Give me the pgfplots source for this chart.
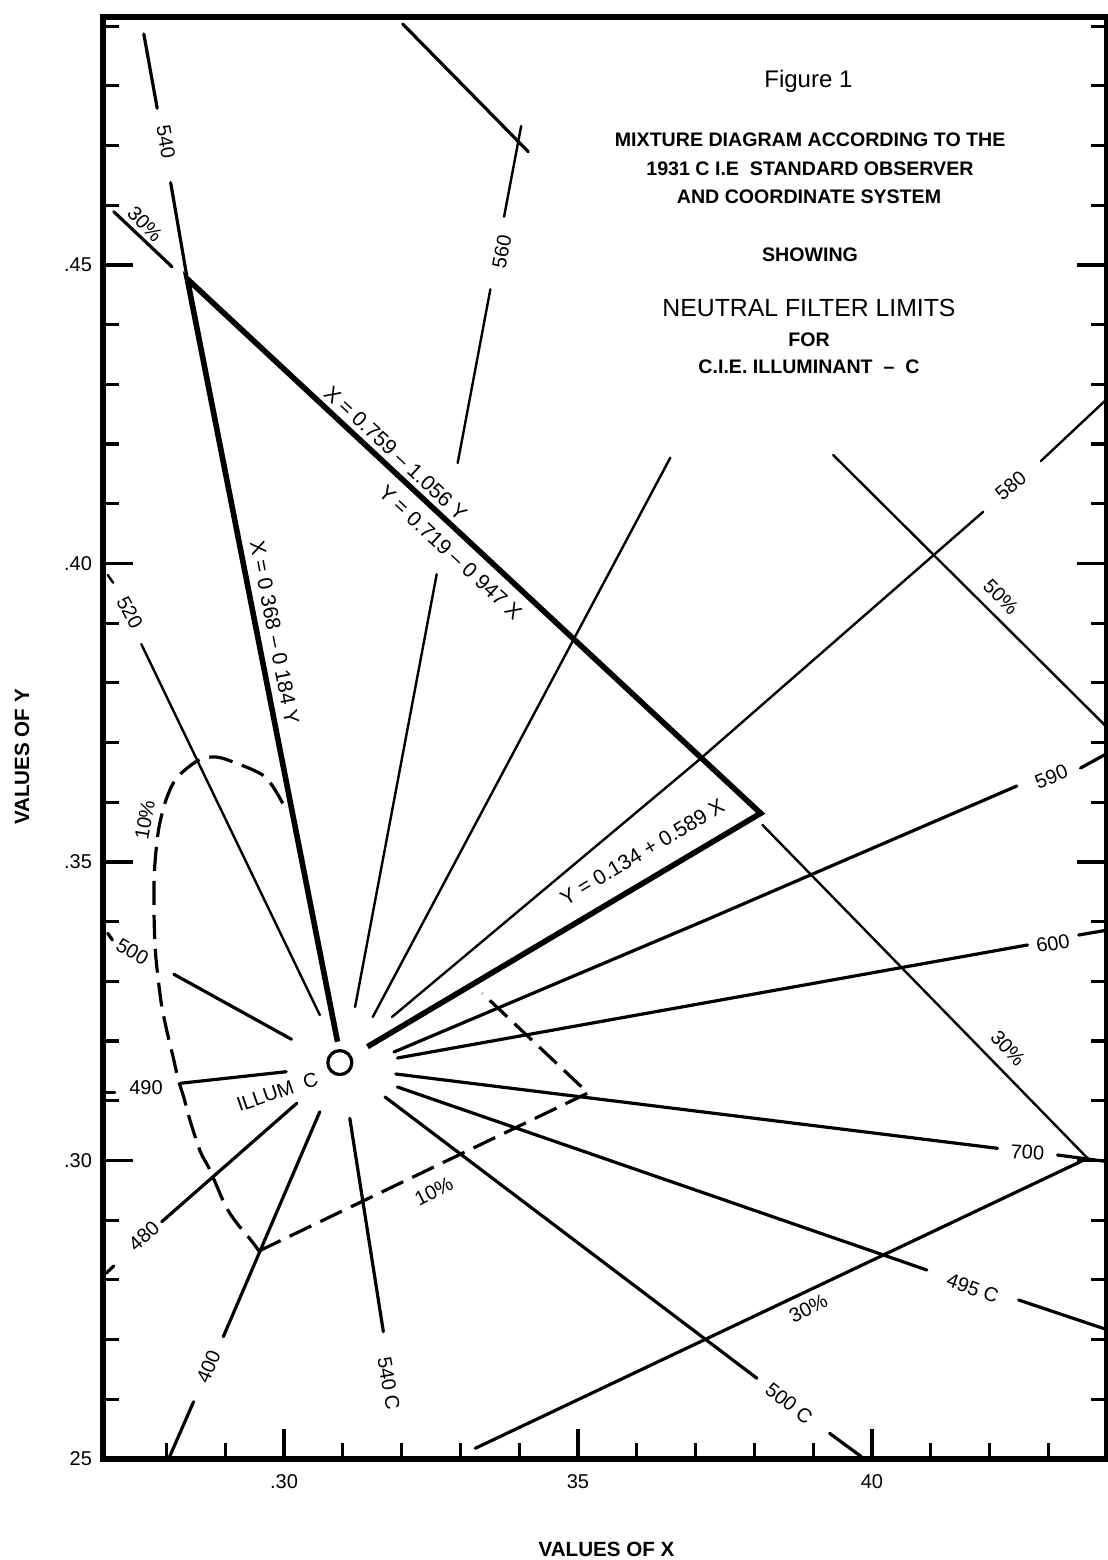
\documentclass[border=0pt]{standalone}
\usepackage{fontspec}
\setmainfont{Liberation Sans}
\usepackage{pgfplots}
\pgfplotsset{compat=1.18}
\tikzset{
  tl/.style={black, line width=1.2pt, line cap=round},
  ml/.style={black, line width=1.6pt, line cap=round},
  kl/.style={black, line width=2.8pt, line join=miter},
  dl/.style={black, line width=1.6pt, dash pattern=on 12pt off 5pt},
  lab/.style={font=\fontsize{10}{12}\selectfont, inner sep=0pt},
  eq/.style={font=\fontsize{10.5}{12}\selectfont, inner sep=0pt},
  tb/.style={font=\bfseries\fontsize{9.8}{12}\selectfont, inner sep=0pt},
}
\begin{document}
\begin{tikzpicture}
\path[use as bounding box] (0,0) rectangle (554pt,780pt);
\begin{axis}[
  at={(51.5pt,50.5pt)}, anchor=south west,
  width=502pt, height=721pt, scale only axis,
  xmin=0.26922, xmax=0.43997, ymin=0.25, ymax=0.49154,
  axis line style={line width=2.8pt},
  tick align=inside,
  xtick pos=left, ytick pos=both, yticklabel pos=left,
  xtick={0.30,0.35,0.40}, xticklabels={.30,35,40},
  ytick={0.25,0.30,0.35,0.40,0.45}, yticklabels={25,.30,.35,.40,.45},
  minor xtick={0.28,0.29,0.31,0.32,0.33,0.34,0.36,0.37,0.38,0.39,0.41,0.42,0.43},
  minor ytick={0.26,0.27,0.28,0.29,0.31,0.32,0.33,0.34,0.36,0.37,0.38,0.39,0.41,0.42,0.43,0.44,0.46,0.47,0.48,0.49},
  major tick length=15pt, minor tick length=8pt,
  every tick/.style={black, line width=1.6pt},
  /pgf/number format/assume math mode=true,
  ticklabel style={font=\fontsize{10}{12}\selectfont},
  xticklabel style={yshift=-4pt},
  yticklabel style={xshift=-2pt},
  xlabel={VALUES OF X}, ylabel={VALUES OF Y},
  label style={font=\bfseries\fontsize{10.3}{12}\selectfont},
  xlabel style={at={(axis description cs:0.5015,-0.0624)}, anchor=center},
  ylabel style={at={(axis description cs:-0.0807,0.4868)}, anchor=center},
]
% 540 (top)
\addplot[ml] coordinates {(0.27616,0.48869) (0.27844,0.47625)};
\addplot[ml] coordinates {(0.28073,0.46379) (0.28355,0.44766)};
% 30% (top left)
\addplot[ml] coordinates {(0.27105,0.45893) (0.28095,0.44971)};
% top diagonal
\addplot[ml] coordinates {(0.32020,0.49036) (0.34155,0.46897)};
% 560
\addplot[tl] coordinates {(0.34034,0.47328) (0.33743,0.45809)};
\addplot[tl] coordinates {(0.33510,0.44593) (0.32954,0.41683)};
\addplot[tl] coordinates {(0.32597,0.39819) (0.31209,0.32571)};
% 570
\addplot[tl] coordinates {(0.36570,0.41772) (0.31510,0.32404)};
% 520
\addplot[tl] coordinates {(0.27573,0.38651) (0.30609,0.32437)};
\addplot[tl] coordinates {(0.27003,0.39807) (0.27094,0.39678)};
% neutral filter limits (triangle)
\addplot[kl] coordinates {(0.30910,0.31990) (0.28355,0.44766) (0.38107,0.35816) (0.31420,0.31906)};
% 580
\addplot[tl] coordinates {(0.31837,0.32404) (0.37056,0.36708) (0.41893,0.40867)};
\addplot[tl] coordinates {(0.42873,0.41717) (0.44014,0.42772)};
% 590
\addplot[ml] coordinates {(0.31871,0.31817) (0.37177,0.34028) (0.42464,0.36273)};
\addplot[ml] coordinates {(0.43546,0.36574) (0.44014,0.36826)};
% 600
\addplot[ml] coordinates {(0.31930,0.31717) (0.42645,0.33610)};
\addplot[ml] coordinates {(0.43515,0.33777) (0.44014,0.33861)};
% 700
\addplot[ml] coordinates {(0.31901,0.31449) (0.42135,0.30204)};
\addplot[ml] coordinates {(0.43155,0.30092) (0.44014,0.29980)};
% 495 C
\addplot[ml] coordinates {(0.31930,0.31231) (0.40932,0.28166)};
\addplot[ml] coordinates {(0.42495,0.27663) (0.44014,0.27161)};
% 500 C
\addplot[ml] coordinates {(0.31718,0.31064) (0.38044,0.26352)};
\addplot[ml] coordinates {(0.39279,0.25430) (0.39820,0.25039)};
% 540 C
\addplot[ml] coordinates {(0.31119,0.30707) (0.31690,0.27132)};
% 400
\addplot[ml] coordinates {(0.30609,0.30817) (0.28968,0.27049)};
\addplot[ml] coordinates {(0.28463,0.25960) (0.28043,0.25012)};
% 480
\addplot[ml] coordinates {(0.30218,0.30958) (0.27922,0.28975)};
\addplot[ml] coordinates {(0.27105,0.28233) (0.26973,0.28110)};
% 490
\addplot[ml] coordinates {(0.30037,0.31487) (0.28235,0.31293)};
\addplot[ml] coordinates {(0.26973,0.31142) (0.27122,0.31142)};
% 500
\addplot[ml] coordinates {(0.30128,0.32030) (0.28128,0.33119)};
\addplot[ml] coordinates {(0.27003,0.33806) (0.27082,0.33693)};
% 50%
\addplot[tl] coordinates {(0.39340,0.41817) (0.44014,0.37239)};
% 30% (right)
\addplot[tl] coordinates {(0.38138,0.35620) (0.43667,0.30037)};
% 30% (lower)
\addplot[ml] coordinates {(0.33253,0.25179) (0.43667,0.30037)};
% 10% dashed limit
\addplot[dl, smooth, tension=0.5] coordinates {
 (0.29978,0.35983) (0.29677,0.36429) (0.29136,0.36675) (0.28835,0.36759)
 (0.28537,0.36700) (0.28175,0.36407) (0.27993,0.36038) (0.27866,0.35536)
 (0.27798,0.34866) (0.27789,0.34196) (0.27815,0.33476) (0.27905,0.32688)
 (0.27993,0.32236) (0.28114,0.31734) (0.28204,0.31348) (0.28294,0.31064)
 (0.28415,0.30628) (0.28580,0.30142) (0.28716,0.29891) (0.28835,0.29623)
 (0.29015,0.29221) (0.29196,0.28953) (0.29437,0.28668) (0.29575,0.28484)};
\addplot[dl, line join=miter] coordinates {(0.29575,0.28484) (0.35170,0.31131) (0.33373,0.32800)};
% Illuminant C
\addplot[only marks, mark=o, mark size=6pt, mark options={black, line width=1.6pt, fill=white}] coordinates {(0.3095,0.3164)};

% labels
\node[lab, rotate=-80] at (axis cs:0.27993,0.47060) {540};
\node[lab, rotate=-46] at (axis cs:0.27636,0.45686) {30\%};
\node[lab, rotate=79] at (axis cs:0.33704,0.45222) {560};
\node[eq, rotate=-43] at (axis cs:0.31901,0.41845) {X = 0.759 – 1.056 Y};
\node[eq, rotate=-43] at (axis cs:0.32832,0.40184) {Y = 0.719 – 0 947 X};
\node[eq, rotate=-79] at (axis cs:0.29842,0.38844) {X = 0 368 – 0 184 Y};
\node[lab, rotate=-62] at (axis cs:0.27378,0.39179) {520};
\node[lab, rotate=40] at (axis cs:0.42359,0.41301) {580};
\node[lab, rotate=-45] at (axis cs:0.42194,0.39444) {50\%};
\node[eq, rotate=31] at (axis cs:0.36094,0.35172) {Y = 0.134 + 0.589 X};
\node[lab, rotate=22] at (axis cs:0.43051,0.36429) {590};
\node[lab, rotate=10] at (axis cs:0.43078,0.33638) {600};
\node[lab, rotate=-47] at (axis cs:0.42313,0.31879) {30\%};
\node[lab, rotate=-4] at (axis cs:0.42645,0.30134) {700};
\node[lab, rotate=-20] at (axis cs:0.41713,0.27859) {495 C};
\node[lab, rotate=27] at (axis cs:0.38918,0.27524) {30\%};
\node[lab, rotate=-38] at (axis cs:0.38589,0.25933) {500 C};
\node[lab, rotate=-80] at (axis cs:0.31781,0.26268) {540 C};
\node[lab, rotate=67] at (axis cs:0.28716,0.26546) {400};
\node[lab, rotate=42] at (axis cs:0.27616,0.28740) {480};
\node[lab, rotate=27] at (axis cs:0.32549,0.29477) {10\%};
\node[lab] at (axis cs:0.27653,0.31214) {490};
\node[lab, rotate=19] at (axis cs:0.29888,0.31152) {ILLUM\ \ C};
\node[lab, rotate=-30] at (axis cs:0.27423,0.33497) {500};
\node[lab, rotate=80] at (axis cs:0.27634,0.35703) {10\%};

% title block
\node[font=\fontsize{12}{14}\selectfont, inner sep=0pt] at (axis cs:0.38918,0.48070) {Figure 1};
\node[tb] at (axis cs:0.38949,0.47093) {MIXTURE DIAGRAM ACCORDING TO THE};
\node[tb] at (axis cs:0.38946,0.46619) {1931 C I.E \ STANDARD OBSERVER};
\node[tb] at (axis cs:0.38929,0.46144) {AND COORDINATE SYSTEM};
\node[tb] at (axis cs:0.38946,0.45167) {SHOWING};
\node[font=\fontsize{12.4}{14}\selectfont, inner sep=0pt] at (axis cs:0.38929,0.44274) {NEUTRAL FILTER LIMITS};
\node[tb] at (axis cs:0.38929,0.43743) {FOR};
\node[tb] at (axis cs:0.38929,0.43296) {C.I.E. ILLUMINANT \ – \ C};
\end{axis}
\end{tikzpicture}
\end{document}
